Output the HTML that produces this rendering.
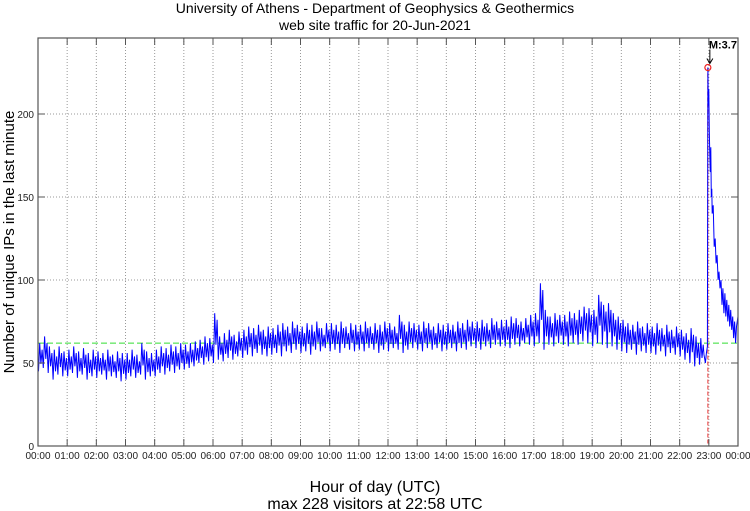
<!DOCTYPE html>
<html><head><meta charset="utf-8"><style>
body{margin:0;background:#fff;}
svg{display:block;font-family:"Liberation Sans",sans-serif;}
</style></head><body>
<svg id="chart" width="750" height="511">
<text x="375" y="13" text-anchor="middle" font-size="14">University of Athens - Department of Geophysics &amp; Geothermics</text>
<text x="375" y="30" text-anchor="middle" font-size="14">web site traffic for 20-Jun-2021</text>
<text x="375" y="492" text-anchor="middle" font-size="16">Hour of day (UTC)</text>
<text x="375" y="509" text-anchor="middle" font-size="16">max 228 visitors at 22:58 UTC</text>
<text transform="translate(14,242) rotate(-90)" text-anchor="middle" font-size="15">Number of unique IPs in the last minute</text>
<g id="grid"></g><g id="series"></g><g id="axes"></g>
</svg>
<script>
const yTicks=[0,50,100,150,200];
const xTickLabels=["00:00","01:00","02:00","03:00","04:00","05:00","06:00","07:00","08:00","09:00","10:00","11:00","12:00","13:00","14:00","15:00","16:00","17:00","18:00","19:00","20:00","21:00","22:00","23:00","00:00"];
const binLow=[45,47,44,40,43,42, 42,44,41,43,40,42, 41,43,40,42,41,39, 40,42,41,43,40,42, 42,44,43,45,44,46, 46,47,48,50,49,51, 50,52,51,53,52,54, 53,55,54,56,55,54, 55,56,54,57,56,58, 56,57,55,58,57,59, 57,58,56,59,58,57, 58,57,59,58,56,58, 57,59,58,56,58,59, 58,57,59,58,59,57, 58,59,57,59,58,60, 59,58,60,59,61,60, 60,59,61,60,62,61, 60,62,58,61,60,62, 61,60,62,61,63,62, 60,62,61,59,60,58, 57,56,58,55,57,56, 56,55,57,54,56,55, 54,52,50,48,49];
const binHigh=[62,66,60,58,60,57, 58,60,57,59,56,58, 57,56,58,55,57,56, 56,58,55,62,57,56, 58,60,59,61,60,62, 61,62,63,64,66,65, 80,66,68,70,67,69, 70,72,71,73,70,72, 71,73,74,72,75,73, 72,74,73,75,71,74, 74,73,75,72,74,73, 73,75,72,74,73,75, 74,72,79,73,75,74, 73,75,74,72,74,73, 74,73,75,74,76,75, 75,76,74,77,75,76, 76,78,77,75,77,79, 80,98,82,78,80,79, 79,81,80,82,84,83, 82,91,85,86,80,78, 76,74,73,75,72,74, 72,74,71,73,70,72, 70,68,71,66,65];
const tailMinutes=[1370,1373,1375,1377,1378,1379,1380,1381,1382,1383,1384,1385,1386,1387,1389,1391,1393,1395,1397,1399,1401,1403,1405,1407,1409,1411,1413,1415,1417,1419,1421,1423,1425,1427,1429,1431,1433,1435,1437,1440];
const tailValues=[55,50,56,60,228,205,215,190,175,165,180,150,155,140,145,120,125,110,115,100,105,95,100,85,95,80,92,78,88,75,85,72,82,70,78,65,75,62,72,78];
const avgValue=62, peakMinute=1378, peakValue=228, peakLabel="M:3.7";
const L=38,R=738,T=38,B=446,PPU=1.66;
const xs=m=>L+(R-L)*m/1440, ys=v=>B-v*PPU;
const NS="http://www.w3.org/2000/svg";
function mk(tag,attrs,parent,txt){const e=document.createElementNS(NS,tag);for(const k in attrs)e.setAttribute(k,attrs[k]);if(txt!==undefined)e.textContent=txt;parent.appendChild(e);return e;}
const grid=document.getElementById('grid'),axes=document.getElementById('axes'),ser=document.getElementById('series');
xTickLabels.forEach((t,i)=>{const x=xs(i*60);
 if(i>0&&i<24){const g=mk('line',{x1:x,x2:x,y1:T,y2:B,stroke:'#999','stroke-dasharray':'1,2'},grid);
 
 }
 const tk=mk('line',{x1:x,x2:x,y1:B,y2:B-7,stroke:'#555'},axes);
 
 
 const tk2=mk('line',{x1:x,x2:x,y1:T,y2:T+7,stroke:'#555'},axes);
 
 
 const lb=mk('text',{x:x,y:B+13,'text-anchor':'middle','font-size':'10',fill:'#222'},axes,t);
 
 });
yTicks.forEach(v=>{const y=ys(v);
 if(v>0){const g=mk('line',{x1:L,x2:R,y1:y,y2:y,stroke:'#999','stroke-dasharray':'1,2'},grid);
 
 }
 const tk=mk('line',{x1:L,x2:L+7,y1:y,y2:y,stroke:'#555'},axes);
 
 
 const tk2=mk('line',{x1:R-7,x2:R,y1:y,y2:y,stroke:'#555'},axes);
 
 
 const lb=mk('text',{x:L-4,y:y+4,'text-anchor':'end','font-size':'10',fill:'#222'},axes,v);
 
 });
const frame=mk('rect',{x:L,y:T,width:R-L,height:B-T,fill:'none',stroke:'#555','stroke-width':1.2},axes);


const avg=mk('line',{x1:L,x2:R,y1:ys(avgValue),y2:ys(avgValue),stroke:'#33dd33','stroke-dasharray':'6,3'},ser);


let pts=[];
binLow.forEach((lo,i)=>{const m=i*10;
 pts.push([xs(m+1),ys(lo)],[xs(m+3.5),ys(binHigh[i])],[xs(m+6),ys((lo+binHigh[i])/2-4)],[xs(m+8.5),ys(binHigh[i]-4)]);});
tailMinutes.forEach((m,i)=>pts.push([xs(m),ys(tailValues[i])]));
const vline=mk('line',{x1:xs(peakMinute),x2:xs(peakMinute),y1:ys(peakValue),y2:B,stroke:'#f06060','stroke-dasharray':'4,2','stroke-width':1.3},ser);


const p=mk('path',{d:'M'+pts.map(q=>q[0].toFixed(1)+','+q[1].toFixed(1)).join('L'),fill:'none',stroke:'#0000ff','stroke-width':1},ser);


const c=mk('circle',{cx:xs(peakMinute),cy:ys(peakValue),r:3,fill:'none',stroke:'#ee2222','stroke-width':1.2},ser);


const ar=mk('path',{d:`M${xs(peakMinute)+2},${ys(peakValue)-18}L${xs(peakMinute)+2},${ys(peakValue)-5}M${xs(peakMinute)-1},${ys(peakValue)-9}L${xs(peakMinute)+2},${ys(peakValue)-4}L${xs(peakMinute)+5},${ys(peakValue)-9}`,stroke:'#000',fill:'none'},ser);


const pl=mk('text',{x:xs(peakMinute)+1,y:ys(peakValue)-19,'font-size':'11','font-weight':'bold'},ser,peakLabel);


</script>
</body></html>
